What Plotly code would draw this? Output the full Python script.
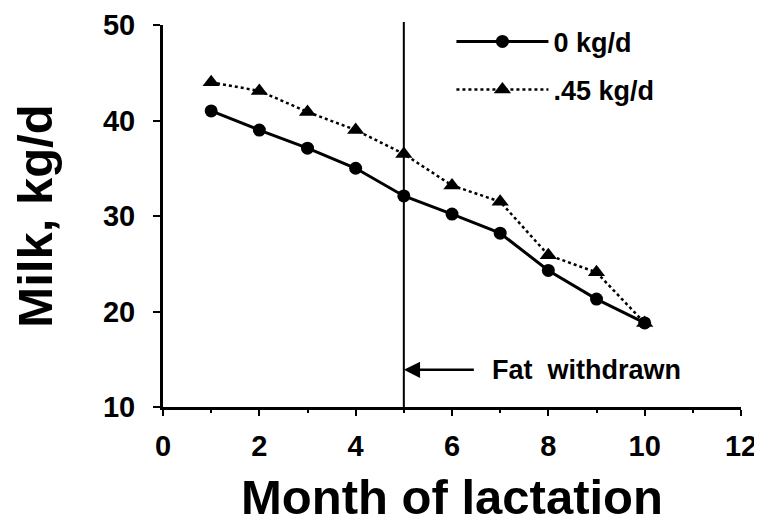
import plotly.graph_objects as go

# ---- data ----
months = [1, 2, 3, 4, 5, 6, 7, 8, 9, 10]
milk_0 = [41.0, 39.0, 37.1, 35.0, 32.1, 30.2, 28.2, 24.3, 21.3, 18.8]
milk_045 = [44.0, 43.1, 40.9, 39.0, 36.5, 33.2, 31.5, 25.9, 24.1, 18.8]
series_names = ["0 kg/d", ".45 kg/d"]
withdraw_month = 5
x_ticks = [0, 2, 4, 6, 8, 10, 12]
y_ticks = [10, 20, 30, 40, 50]

FONT = "Liberation Sans, Arial, Helvetica, sans-serif"

fig = go.Figure()
fig.add_trace(go.Scatter(
    x=months, y=milk_0, name=series_names[0], mode="lines+markers",
    line=dict(color="black", width=3),
    marker=dict(symbol="circle", size=13, color="black"),
    legendgroup="a",
))
fig.add_trace(go.Scatter(
    x=months, y=milk_045, name=series_names[1], mode="lines+markers",
    line=dict(color="black", width=2.5, dash="dot"),
    marker=dict(symbol="triangle-up", size=15, color="black"),
    legendgroup="b",
))

fig.add_shape(type="line", xref="x", yref="paper",
              x0=withdraw_month, x1=withdraw_month, y0=0, y1=1.008,
              line=dict(color="black", width=2))

fig.add_annotation(
    x=withdraw_month, y=13.9, xref="x", yref="y",
    text="Fat  withdrawn", showarrow=True,
    ax=86, ay=0, xanchor="left", startstandoff=16,
    arrowhead=2, arrowsize=1.3, arrowwidth=2.5, arrowcolor="black",
    font=dict(family=FONT, size=27, color="black", weight="bold"),
)

axis_common = dict(
    showline=True, linewidth=3, linecolor="black", mirror=False,
    ticks="outside", tickwidth=2, tickcolor="black",
    showgrid=False, zeroline=False,
    tickfont=dict(family=FONT, size=29, color="black", weight="bold"),
)

fig.update_xaxes(
    range=[0, 12], tickvals=x_ticks, ticklen=6, ticklabelstandoff=5,
    minor=dict(dtick=1, tick0=0, ticks="outside", ticklen=3, tickwidth=2, tickcolor="black"),
    title=dict(text="Month of lactation", standoff=38,
               font=dict(family=FONT, size=49, color="black", weight="bold")),
    **axis_common,
)
fig.update_yaxes(
    range=[10, 50], tickvals=y_ticks, ticklen=7, ticklabelstandoff=12,
    title=dict(text="Milk, kg/d", standoff=50,
               font=dict(family=FONT, size=49, color="black", weight="bold")),
    **axis_common,
)

fig.update_layout(
    width=754, height=516,
    margin=dict(l=155, r=21, t=17, b=117, autoexpand=False),
    paper_bgcolor="white", plot_bgcolor="white",
    showlegend=True,
    legend=dict(
        x=0.499, y=1.02, xanchor="left", yanchor="top",
        itemwidth=92, tracegroupgap=10, traceorder="grouped",
        bgcolor="rgba(0,0,0,0)",
        font=dict(family=FONT, size=27, color="black", weight="bold"),
    ),
)

fig.write_html("out.html")
